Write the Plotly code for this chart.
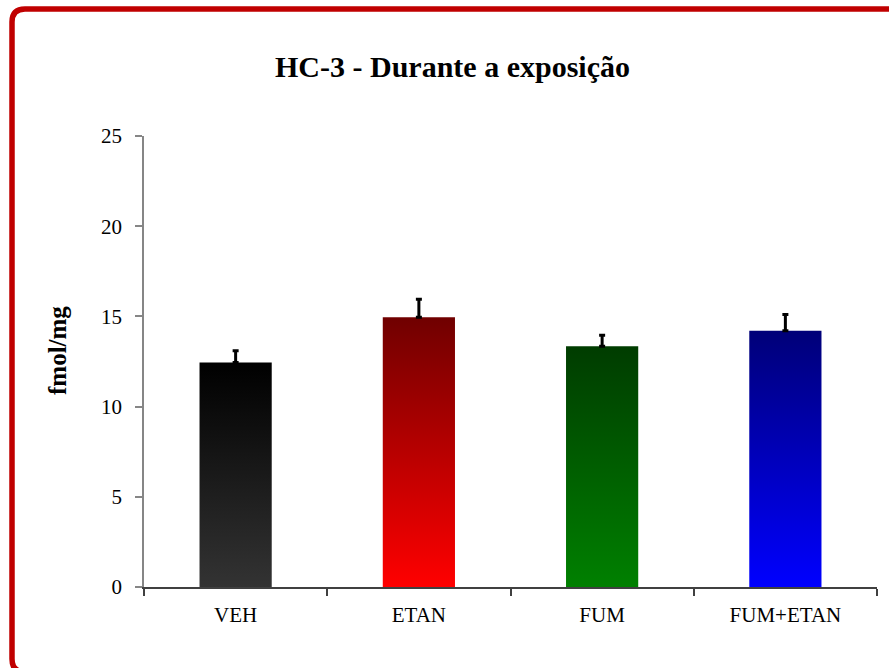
import plotly.graph_objects as go

# Data
categories = ["VEH", "ETAN", "FUM", "FUM+ETAN"]
means = [12.45, 14.95, 13.35, 14.2]
errors = [0.65, 1.0, 0.6, 0.9]
top_colors = ["#000000", "#700000", "#003c00", "#000078"]
bottom_colors = ["#333333", "#ff0000", "#008000", "#0000ff"]
y_ticks = [0, 5, 10, 15, 20, 25]

W, H = 889, 668
ML, MR, MT, MB = 144, 12, 136, 81
PW, PH = W - ML - MR, H - MT - MB


def px_x(px):
    return (px - ML) / PW


def px_y(py):
    return (H - MB - py) / PH


SERIF = "Liberation Serif, Times New Roman, serif"
half = 0.197

fig = go.Figure()

# Bars drawn as filled polygons so each can carry a vertical gradient
for i, (cat, m) in enumerate(zip(categories, means)):
    fig.add_trace(go.Scatter(
        x=[i - half, i + half, i + half, i - half, i - half],
        y=[0, 0, m, m, 0],
        mode="lines",
        line=dict(width=0),
        fill="toself",
        fillgradient=dict(
            type="vertical",
            colorscale=[[0, bottom_colors[i]], [1, top_colors[i]]],
        ),
        hoverinfo="skip",
        showlegend=False,
        name=cat,
    ))

# Error bars (upper only)
fig.add_trace(go.Scatter(
    x=list(range(len(categories))),
    y=means,
    mode="markers",
    marker=dict(size=1, opacity=0),
    error_y=dict(type="data", array=errors, arrayminus=[0] * len(errors),
                 symmetric=False, color="#000000", thickness=3, width=3),
    showlegend=False,
    hoverinfo="skip",
))

# Frame: rounded top-left and bottom-left corners; the top and bottom
# edges run straight off the right side of the page
x0, x1, y0, y1, r = 12, 1000, 9, 672, 13
path = (
    f"M {px_x(x1)},{px_y(y0)} L {px_x(x0 + r)},{px_y(y0)} "
    f"Q {px_x(x0)},{px_y(y0)} {px_x(x0)},{px_y(y0 + r)} "
    f"L {px_x(x0)},{px_y(y1 - r)} Q {px_x(x0)},{px_y(y1)} {px_x(x0 + r)},{px_y(y1)} "
    f"L {px_x(x1)},{px_y(y1)}"
)
fig.add_shape(type="path", xref="paper", yref="paper", path=path,
              line=dict(color="#c00000", width=5.5), layer="above")

fig.add_annotation(
    text="<b>HC-3 - Durante a exposição</b>", xref="paper", yref="paper",
    x=px_x(452), y=px_y(67), showarrow=False,
    font=dict(family=SERIF, size=30, color="#000000"),
    xanchor="center", yanchor="middle",
)
fig.add_annotation(
    text="<b>fmol/mg</b>", xref="paper", yref="paper",
    x=px_x(57), y=px_y(351), showarrow=False, textangle=-90,
    font=dict(family=SERIF, size=25, color="#000000"),
    xanchor="center", yanchor="middle",
)

fig.update_layout(
    width=W, height=H,
    margin=dict(l=ML, r=MR, t=MT, b=MB),
    paper_bgcolor="#ffffff", plot_bgcolor="#ffffff",
    font=dict(family=SERIF, size=21, color="#000000"),
    showlegend=False,
)
fig.update_xaxes(
    range=[-0.5, len(categories) - 0.5],
    tickmode="array", tickvals=list(range(len(categories))), ticktext=categories,
    ticks="", showgrid=False, zeroline=False,
    showline=True, linecolor="#404040", linewidth=1.5,
    ticklabelstandoff=8,
    minor=dict(tickvals=[i - 0.5 for i in range(len(categories) + 1)],
               ticks="outside", ticklen=7, tickcolor="#404040", tickwidth=1.5,
               showgrid=False),
)
fig.update_yaxes(
    range=[0, 25], tickmode="array", tickvals=y_ticks,
    ticks="outside", ticklen=7, tickcolor="#868686", tickwidth=1.5,
    showgrid=False, zeroline=False,
    showline=True, linecolor="#868686", linewidth=1.5,
    ticklabelstandoff=9,
)

fig.write_html("out.html")
